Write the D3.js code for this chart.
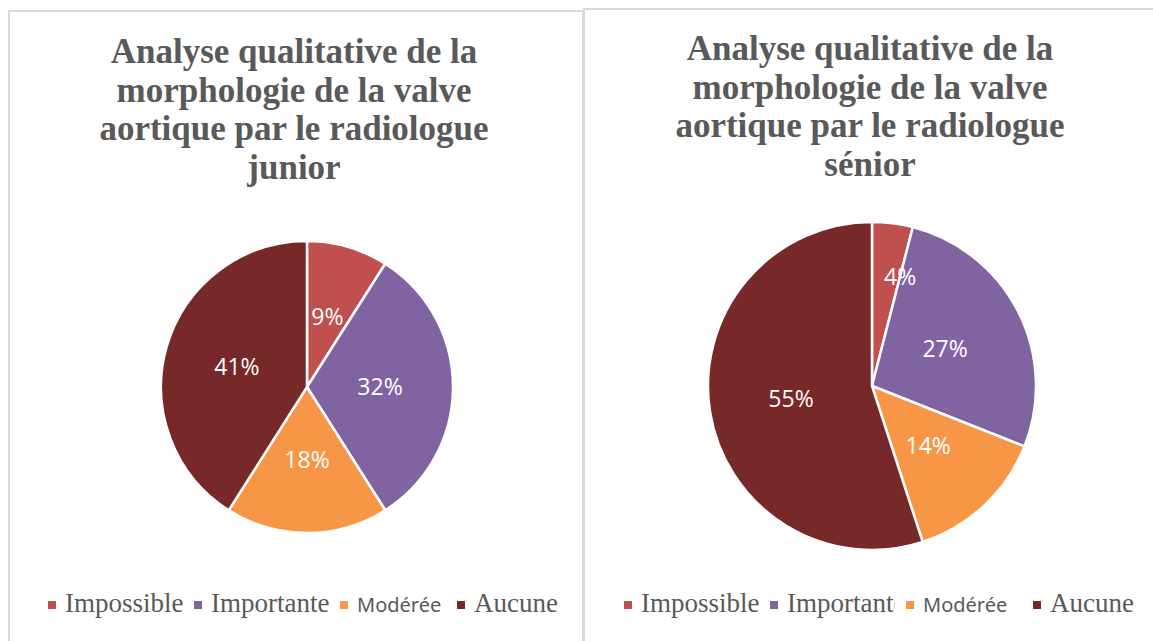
<!DOCTYPE html>
<html>
<head>
<meta charset="utf-8">
<script src="https://cdn.jsdelivr.net/npm/d3@7"></script>
<style>
  body { margin: 0; background: #fff; }
  svg { display: block; }
</style>
</head>
<body>
<script>
// data
var categories = ["Impossible", "Importante", "Modérée", "Aucune"];
var juniorValues = [9, 32, 18, 41];
var seniorValues = [4, 27, 14, 55];
var colors = ["#C0504D", "#8064A2", "#F79646", "#772828"];
var juniorTitle = ["Analyse qualitative de la", "morphologie de la valve", "aortique par le radiologue", "junior"];
var seniorTitle = ["Analyse qualitative de la", "morphologie de la valve", "aortique par le radiologue", "sénior"];

var width = 1153, height = 641;

var svg = d3.select("body").append("svg")
    .attr("width", width)
    .attr("height", height);

var defs = svg.append("defs");

var color = d3.scaleOrdinal().domain(categories).range(colors);

// layout of each panel
var panels = [
  { values: juniorValues, title: juniorTitle, box: [9, 11, 574, 700],
    titleX: 294, titleY: 63, cx: 307, cy: 387, r: 146,
    legendX: [48, 194, 340, 457], legendY: 612 },
  { values: seniorValues, title: seniorTitle, box: [584, 9, 600, 700],
    titleX: 870, titleY: 60, cx: 872, cy: 386, r: 164,
    legendX: [624, 770, 906, 1033], legendY: 612 }
];

function draw(p, idx) {
  var g = svg.append("g");

  // panel frame
  g.append("rect")
      .attr("x", p.box[0]).attr("y", p.box[1])
      .attr("width", p.box[2]).attr("height", p.box[3])
      .attr("fill", "#fff")
      .attr("stroke", "#d9d9d9")
      .attr("stroke-width", 2);

  // title
  g.append("text")
      .attr("text-anchor", "middle")
      .attr("font-family", "'Liberation Serif', serif")
      .attr("font-weight", "bold")
      .attr("font-size", 35)
      .attr("fill", "#595959")
    .selectAll("tspan")
    .data(p.title)
    .enter().append("tspan")
      .attr("x", p.titleX)
      .attr("y", function(d, i) { return p.titleY + i * 38.5; })
      .text(function(d) { return d; });

  // pie
  var data = p.values.map(function(v, i) { return { cat: categories[i], value: v }; });
  var pie = d3.pie().sort(null).value(function(d) { return d.value; });
  var arc = d3.arc().innerRadius(0).outerRadius(p.r);

  var pg = g.append("g").attr("transform", "translate(" + p.cx + "," + p.cy + ")");
  var arcs = pie(data);

  pg.selectAll("path")
      .data(arcs)
      .enter().append("path")
      .attr("d", arc)
      .attr("fill", function(d) { return color(d.data.cat); })
      .attr("stroke", "#fff")
      .attr("stroke-width", 2.5);

  // labels, tiny slices get nudged out to the slice edge
  pg.selectAll("text.lbl")
      .data(arcs)
      .enter().append("text")
      .attr("class", "lbl")
      .attr("transform", function(d) {
        var small = d.data.value < 5;
        var k = small ? 0.69 : 0.5;
        var a = small ? d.endAngle : (d.startAngle + d.endAngle) / 2;
        return "translate(" + (Math.sin(a) * p.r * k) + "," + (-Math.cos(a) * p.r * k) + ")";
      })
      .attr("text-anchor", "middle")
      .attr("dy", "0.36em")
      .attr("font-family", "'Open Sans', sans-serif")
      .attr("font-size", 23)
      .attr("fill", "#fff")
      .text(function(d) { return d.data.value + "%"; });

  // legend
  var lg = g.append("g");
  categories.forEach(function(c, i) {
    var x0 = p.legendX[i];
    var next = i < categories.length - 1 ? p.legendX[i + 1] : width;
    var clipId = "clip" + idx + "_" + i;
    defs.append("clipPath").attr("id", clipId)
      .append("rect")
        .attr("x", x0).attr("y", p.legendY - 30)
        .attr("width", next - x0 - 11).attr("height", 40);

    lg.append("rect")
        .attr("x", x0).attr("y", p.legendY - 11)
        .attr("width", 8).attr("height", 8)
        .attr("fill", color(c));

    var isSans = c === "Modérée";
    lg.append("text")
        .attr("clip-path", "url(#" + clipId + ")")
        .attr("x", x0 + 17)
        .attr("y", p.legendY)
        .attr("font-family", isSans ? "'Noto Sans', sans-serif" : "'Liberation Serif', serif")
        .attr("font-size", isSans ? 20 : 27)
        .attr("fill", "#595959")
        .text(c);
  });
}

panels.forEach(draw);
</script>
</body>
</html>
